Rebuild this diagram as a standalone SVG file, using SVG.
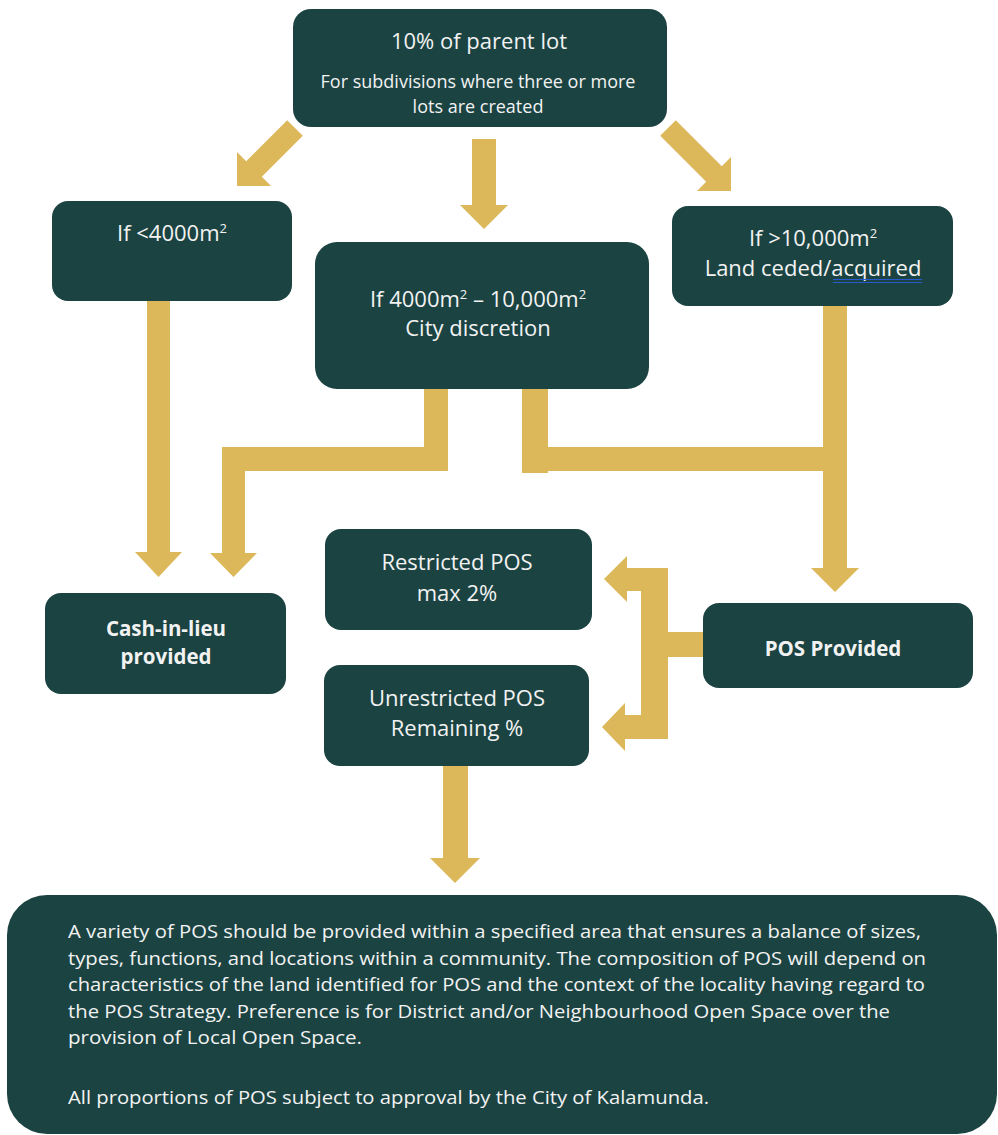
<svg xmlns="http://www.w3.org/2000/svg" width="998" height="1135" viewBox="0 0 998 1135">
<style>
.box{fill:#1b4342}
.conn{fill:#ddb85a}
text{font-family:"Open Sans","Liberation Sans",sans-serif;fill:#f2f2f2;text-anchor:middle}
.t{font-size:22px}
.s{font-size:18px}
.b{font-size:20.5px;font-weight:bold}
.p{font-size:18px;text-anchor:start}
.sup{font-size:13px}
</style>
<rect width="998" height="1135" fill="#ffffff"/>
<g id="connectors" class="conn">
<polygon points="287.2,120.2 302.8,135.8 261.8,176.8 271,186 237,186 237,152 246.2,161.2"/>
<polygon points="472,139 496,139 496,205 508,205 484,229 460,205 472,205"/>
<polygon points="660.2,135.8 675.8,120.2 721.8,166.2 731,157 731,191 697,191 706.2,181.8"/>
<polygon points="147,301 170,301 170,552 182,552 158.5,577 135,552 147,552"/>
<polygon points="424,389 448,389 448,471 245,471 245,553 257,553 233.5,577 210,553 222,553 222,447 424,447"/>
<polygon points="522,389 548,389 548,447 823,447 823,306 847,306 847,568 859,568 835,592 811,568 823,568 823,471 548,471 548,473 522,473"/>
<polygon points="703,632 703,657 668,657 668,739 625,739 625,751 602,727 625,703 625,715 641,715 641,591 627,591 627,602 604,579 627,556 627,568 668,568 668,632"/>
<polygon points="443,765 468,765 468,858 480,858 455,883 430,858 443,858"/>
</g>
<g id="node-parent">
<rect class="box" x="293" y="9" width="374" height="118" rx="18"/>
<text class="t" x="479" y="49">10% of parent lot</text>
<text class="s" x="478" y="88">For subdivisions where three or more</text>
<text class="s" x="478" y="113">lots are created</text>
</g>
<g id="node-lt4000">
<rect class="box" x="52" y="201" width="240" height="100" rx="16"/>
<text class="t" x="172" y="241">If &lt;4000m<tspan class="sup" dy="-8">2</tspan></text>
</g>
<g id="node-mid">
<rect class="box" x="315" y="242" width="334" height="147" rx="22"/>
<text class="t" x="478" y="307">If 4000m<tspan class="sup" dy="-8">2</tspan><tspan dy="8"> – 10,000m</tspan><tspan class="sup" dy="-8">2</tspan></text>
<text class="t" x="478" y="336">City discretion</text>
</g>
<g id="node-gt10000">
<rect class="box" x="672" y="206" width="281" height="100" rx="16"/>
<text class="t" x="813" y="246">If &gt;10,000m<tspan class="sup" dy="-8">2</tspan></text>
<text class="t" x="813" y="276">Land ceded/acquired</text>
<line x1="833" y1="279.5" x2="922" y2="279.5" stroke="#2a5ad0" stroke-width="1.2"/>
<line x1="833" y1="282.5" x2="922" y2="282.5" stroke="#2a5ad0" stroke-width="1.2"/>
</g>
<g id="node-cash">
<rect class="box" x="45" y="593" width="241" height="101" rx="16"/>
<text class="b" x="166" y="636">Cash-in-lieu</text>
<text class="b" x="166" y="664">provided</text>
</g>
<g id="node-restricted">
<rect class="box" x="325" y="529" width="267" height="101" rx="16"/>
<text class="t" x="457" y="570">Restricted POS</text>
<text class="t" x="457" y="601">max 2%</text>
</g>
<g id="node-unrestricted">
<rect class="box" x="324" y="665" width="265" height="101" rx="16"/>
<text class="t" x="457" y="706">Unrestricted POS</text>
<text class="t" x="457" y="736">Remaining %</text>
</g>
<g id="node-pos">
<rect class="box" x="703" y="603" width="270" height="85" rx="16"/>
<text class="b" x="833" y="656">POS Provided</text>
</g>
<g id="node-note">
<rect class="box" x="7" y="895" width="990" height="239" rx="40"/>
<text class="p" x="68" y="938" textLength="853" lengthAdjust="spacingAndGlyphs">A variety of POS should be provided within a specified area that ensures a balance of sizes,</text>
<text class="p" x="68" y="964.5" textLength="858" lengthAdjust="spacingAndGlyphs">types, functions, and locations within a community. The composition of POS will depend on</text>
<text class="p" x="68" y="991" textLength="857" lengthAdjust="spacingAndGlyphs">characteristics of the land identified for POS and the context of the locality having regard to</text>
<text class="p" x="68" y="1017.5" textLength="822" lengthAdjust="spacingAndGlyphs">the POS Strategy. Preference is for District and/or Neighbourhood Open Space over the</text>
<text class="p" x="68" y="1044" textLength="294" lengthAdjust="spacingAndGlyphs">provision of Local Open Space.</text>
<text class="p" x="68" y="1104" textLength="641" lengthAdjust="spacingAndGlyphs">All proportions of POS subject to approval by the City of Kalamunda.</text>
</g>
</svg>
